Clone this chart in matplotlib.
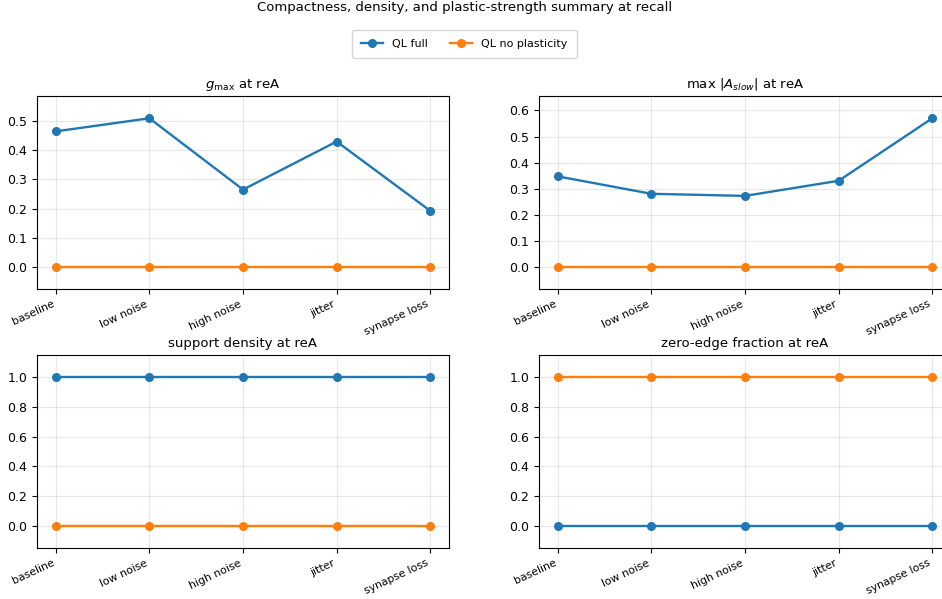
import matplotlib as mpl
mpl.use("Agg")
from matplotlib import pyplot as plt
from matplotlib.ticker import MultipleLocator
import numpy as np

conditions = ["baseline", "low noise", "high noise", "jitter", "synapse loss"]

# per-panel values for the two model variants
gmax_full = [0.465, 0.510, 0.265, 0.430, 0.192]
gmax_noplast = [0.0, 0.0, 0.0, 0.0, 0.0]
aslow_full = [0.347, 0.280, 0.272, 0.330, 0.570]
aslow_noplast = [0.0, 0.0, 0.0, 0.0, 0.0]
density_full = [1.0, 1.0, 1.0, 1.0, 1.0]
density_noplast = [0.0, 0.0, 0.0, 0.0, 0.0]
zeroedge_full = [0.0, 0.0, 0.0, 0.0, 0.0]
zeroedge_noplast = [1.0, 1.0, 1.0, 1.0, 1.0]

panels = [
    (r"$g_{\max}$ at reA", gmax_full, gmax_noplast, 0.1),
    (r"max $|A_{slow}|$ at reA", aslow_full, aslow_noplast, 0.1),
    ("support density at reA", density_full, density_noplast, 0.2),
    ("zero-edge fraction at reA", zeroedge_full, zeroedge_noplast, 0.2),
]

W, H = 942, 599
fig = plt.figure(figsize=(W / 100, H / 100), dpi=100)

# axes boxes in pixels: left, top, right, bottom
boxes = [(37, 96, 449, 289), (539, 96, 951, 289),
         (37, 355, 449, 548), (539, 355, 951, 548)]

x = np.arange(len(conditions))
for (title, full, noplast, step), (l, t, r, b) in zip(panels, boxes):
    ax = fig.add_axes([l / W, (H - b) / H, (r - l) / W, (b - t) / H])
    ax.plot(x, full, "-o", color="#1f77b4", lw=1.7, ms=5.5, label="QL full")
    ax.plot(x, noplast, "-o", color="#ff7f0e", lw=1.7, ms=5.5, label="QL no plasticity")
    m = max(max(full), max(noplast))
    ax.set_ylim(-0.15 * m, 1.15 * m)
    ax.set_xlim(-0.2, 4.2)
    ax.yaxis.set_major_locator(MultipleLocator(step))
    ax.set_xticks(x)
    ax.set_xticklabels(conditions, rotation=25, ha="right", fontsize=7.8)
    ax.tick_params(axis="y", labelsize=9)
    ax.grid(True, alpha=0.3)
    ax.set_title(title, fontsize=9.5)

handles, labels = ax.get_legend_handles_labels()
fig.legend(handles, labels, loc="center", bbox_to_anchor=(0.493, 1 - 44 / H),
           ncol=2, fontsize=8, borderpad=0.8, frameon=True)
fig.suptitle("Compactness, density, and plastic-strength summary at recall",
             fontsize=9.5, x=0.493, y=1 - 8 / H, va="center")

plt.savefig("out.png", dpi=100)
